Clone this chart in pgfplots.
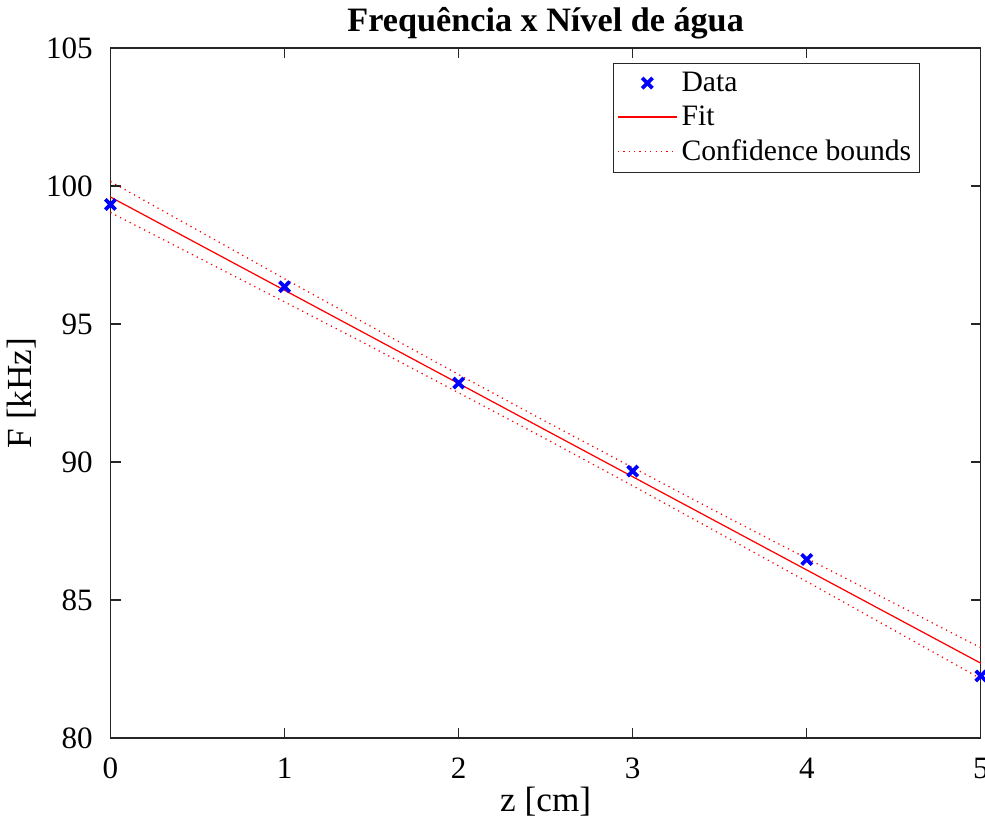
\documentclass[border=0pt]{standalone}
\usepackage{fontspec}
\setmainfont{Liberation Serif}
\usepackage{pgfplots}
\pgfplotsset{compat=1.18}

\begin{document}
\begin{tikzpicture}
\begin{axis}[
  name=ax,
  width=420pt, height=333pt,
  scale only axis,
  xmin=0, xmax=5, ymin=80, ymax=105,
  xtick={0,1,2,3,4,5},
  ytick={80,85,90,95,100,105},
  tick align=inside,
  axis line style={draw=black!85, line width=0.6pt},
  major tick length=5pt,
  tick style={black!85, line width=0.6pt},
  /pgf/number format/assume math mode=true,
  tick label style={font=\fontsize{15}{17}\selectfont},
  xticklabel style={yshift=-6pt},
  yticklabel style={xshift=-5pt},
  label style={font=\fontsize{17}{19}\selectfont},
  xlabel={z [cm]},
  ylabel={F [kHz]},
  title={\textbf{Frequência x Nível de água}},
  title style={font=\fontsize{16.5}{18}\selectfont, yshift=-5pt},
  xlabel style={yshift=3pt},
  ylabel style={yshift=-2pt},
  clip=false,
  legend style={at={(0.93,0.978)}, anchor=north east, draw=black!85,
    font=\fontsize{14.3}{17}\selectfont, row sep=1.5pt, inner sep=2pt},
  legend cell align=left,
  legend image code/.code={\draw[mark repeat=2, mark phase=2]
    plot coordinates {(0cm,0cm) (0.5cm,0cm) (1cm,0cm)};},
]
\addplot[only marks, mark=x, mark size=3.5pt, draw=blue, line width=1.8pt]
  coordinates {(0,99.33) (1,96.35) (2,92.86) (3,89.67) (4,86.47) (5,82.25)};
\addlegendentry{Data}
\addplot[draw=red, line width=0.6pt]
  coordinates {(0,99.60) (5,82.71)};
\addlegendentry{Fit}
\addplot[draw=red, line width=0.6pt, dotted]
  coordinates {(0,100.16) (0.5,98.40) (1,96.64) (1.5,94.90) (2,93.17) (2.5,91.47)
    (3,89.80) (3.5,88.14) (4,86.51) (4.5,84.89) (5,83.27)};
\addlegendentry{Confidence bounds}
\addplot[draw=red, line width=0.6pt, dotted, forget plot]
  coordinates {(0,99.04) (0.5,97.42) (1,95.80) (1.5,94.17) (2,92.51) (2.5,90.84)
    (3,89.14) (3.5,87.41) (4,85.67) (4.5,83.91) (5,82.15)};
\end{axis}
\pgfresetboundingbox
\path[use as bounding box] (ax.outer south west)
  rectangle ([xshift=2pt]ax.outer north east -| ax.east);
\end{tikzpicture}
\end{document}
